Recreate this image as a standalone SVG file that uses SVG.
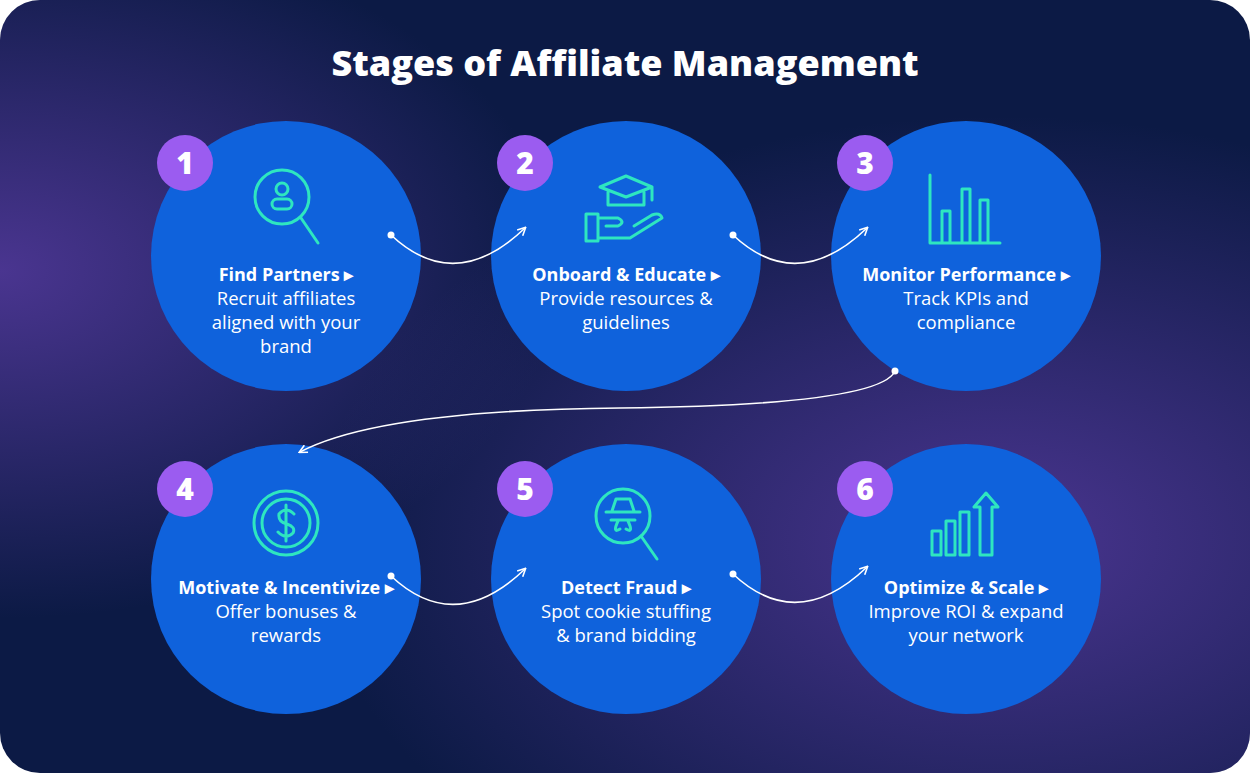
<svg xmlns="http://www.w3.org/2000/svg" width="1250" height="773" viewBox="0 0 1250 773">
<defs>
<radialGradient id="g1" cx="0" cy="0.35" r="0.45"><stop offset="0" stop-color="#4a3590"/><stop offset="1" stop-color="#4a3590" stop-opacity="0"/></radialGradient>
<radialGradient id="g2" cx="0.8" cy="0.7" r="0.55"><stop offset="0" stop-color="#4a3590"/><stop offset="1" stop-color="#4a3590" stop-opacity="0"/></radialGradient>
<marker id="ah" viewBox="0 0 10 10" refX="8" refY="5" markerWidth="10" markerHeight="10" orient="auto" markerUnits="userSpaceOnUse"><path d="M1,1 L9,5 L1,9" fill="none" stroke="#fff" stroke-width="1.6"/></marker>
<style>
.c{fill:#0f62dc}
.b{fill:#9b5cf0}
.n{font-family:"Open Sans","Liberation Sans",sans-serif;font-weight:800;font-size:30px;fill:#fff;text-anchor:middle}
.h{font-family:"Open Sans","Liberation Sans",sans-serif;font-weight:700;font-size:18px;fill:#fff;text-anchor:middle}
.t{font-family:"Open Sans","Liberation Sans",sans-serif;font-size:18.5px;fill:#fff;text-anchor:middle}
.i{fill:none;stroke:#2ee6c0;stroke-width:3;stroke-linecap:round;stroke-linejoin:round}
.k{fill:none;stroke:#fff;stroke-width:1.6}
</style>
</defs>
<rect width="1250" height="773" rx="40" fill="#0c1a45"/>
<rect width="1250" height="773" rx="40" fill="url(#g1)"/>
<rect width="1250" height="773" rx="40" fill="url(#g2)"/>
<text x="625" y="76" font-family="'Open Sans','Liberation Sans',sans-serif" font-weight="800" font-size="36" fill="#fff" text-anchor="middle">Stages of Affiliate Management</text>
<g id="node1"><circle class="c" cx="286" cy="256" r="135"/><circle class="b" cx="185" cy="163" r="28"/><text class="n" x="185" y="174">1</text>
<circle class="i" cx="282" cy="197" r="27"/><circle class="i" cx="282" cy="189" r="6"/><rect class="i" x="272" y="199" width="20" height="10" rx="5"/><line class="i" x1="301" y1="218" x2="318" y2="243"/>
<text class="h" x="286" y="281">Find Partners ▸</text><text class="t" x="286" y="305">Recruit affiliates</text><text class="t" x="286" y="329">aligned with your</text><text class="t" x="286" y="353">brand</text></g>
<g id="node2"><circle class="c" cx="626" cy="256" r="135"/><circle class="b" cx="525" cy="163" r="28"/><text class="n" x="525" y="174">2</text>
<path class="i" d="M600,187 L626,176 L652,187 L626,197 Z M608,192 V205 H644 V192 M652,187 V200"/><path class="i" d="M586,214 H598 V241 H586 Z M598,218 H618 Q626,222 618,226 H606 M598,238 H630 L662,218 Q660,212 652,215 L634,226"/>
<text class="h" x="626" y="281">Onboard &amp; Educate ▸</text><text class="t" x="626" y="305">Provide resources &amp;</text><text class="t" x="626" y="329">guidelines</text></g>
<g id="node3"><circle class="c" cx="966" cy="256" r="135"/><circle class="b" cx="865" cy="163" r="28"/><text class="n" x="865" y="174">3</text>
<path class="i" d="M930,175 V243 H1000 M942,243 V211 H950 V243 M962,243 V189 H970 V243 M980,243 V200 H988 V243"/>
<text class="h" x="966" y="281">Monitor Performance ▸</text><text class="t" x="966" y="305">Track KPIs and</text><text class="t" x="966" y="329">compliance</text></g>
<g id="node4"><circle class="c" cx="286" cy="579" r="135"/><circle class="b" cx="185" cy="489" r="28"/><text class="n" x="185" y="500">4</text>
<circle class="i" cx="286" cy="523" r="32"/><circle class="i" cx="286" cy="523" r="24"/><path class="i" d="M294,514 Q286,506 279,514 Q278,522 287,524 Q296,527 293,533 Q286,540 278,532 M286,505 V541"/>
<text class="h" x="286" y="594">Motivate &amp; Incentivize ▸</text><text class="t" x="286" y="618">Offer bonuses &amp;</text><text class="t" x="286" y="642">rewards</text></g>
<g id="node5"><circle class="c" cx="626" cy="579" r="135"/><circle class="b" cx="525" cy="489" r="28"/><text class="n" x="525" y="500">5</text>
<circle class="i" cx="623" cy="516" r="27"/><line class="i" x1="641" y1="536" x2="657" y2="559"/><path class="i" d="M606,512 H640 M612,511 L616,499 H630 L634,511"/><path class="i" d="M611,520 H635 M618,521 Q612,534 620,529 M628,521 Q634,534 626,529"/>
<text class="h" x="626" y="594">Detect Fraud ▸</text><text class="t" x="626" y="618">Spot cookie stuffing</text><text class="t" x="626" y="642">&amp; brand bidding</text></g>
<g id="node6"><circle class="c" cx="966" cy="579" r="135"/><circle class="b" cx="865" cy="489" r="28"/><text class="n" x="865" y="500">6</text>
<path class="i" d="M932,531 H941 V555 H932 Z M946,521 H955 V555 H946 Z M960,512 H969 V555 H960 Z M974,507 H980 V555 H992 V507 H998 L986,493 Z"/>
<text class="h" x="966" y="594">Optimize &amp; Scale ▸</text><text class="t" x="966" y="618">Improve ROI &amp; expand</text><text class="t" x="966" y="642">your network</text></g>
<g id="connectors">
<circle cx="391" cy="235" r="3.5" fill="#fff"/><path class="k" d="M391,235 Q455,295 525,228" marker-end="url(#ah)"/>
<circle cx="733" cy="235" r="3.5" fill="#fff"/><path class="k" d="M733,235 Q797,295 867,228" marker-end="url(#ah)"/>
<circle cx="895" cy="371" r="3.5" fill="#fff"/><path class="k" d="M895,371 Q880,405 620,408 Q380,410 300,452" marker-end="url(#ah)"/>
<circle cx="391" cy="576" r="3.5" fill="#fff"/><path class="k" d="M391,576 Q455,636 525,569" marker-end="url(#ah)"/>
<circle cx="733" cy="574" r="3.5" fill="#fff"/><path class="k" d="M733,574 Q797,634 867,567" marker-end="url(#ah)"/>
</g>
</svg>
